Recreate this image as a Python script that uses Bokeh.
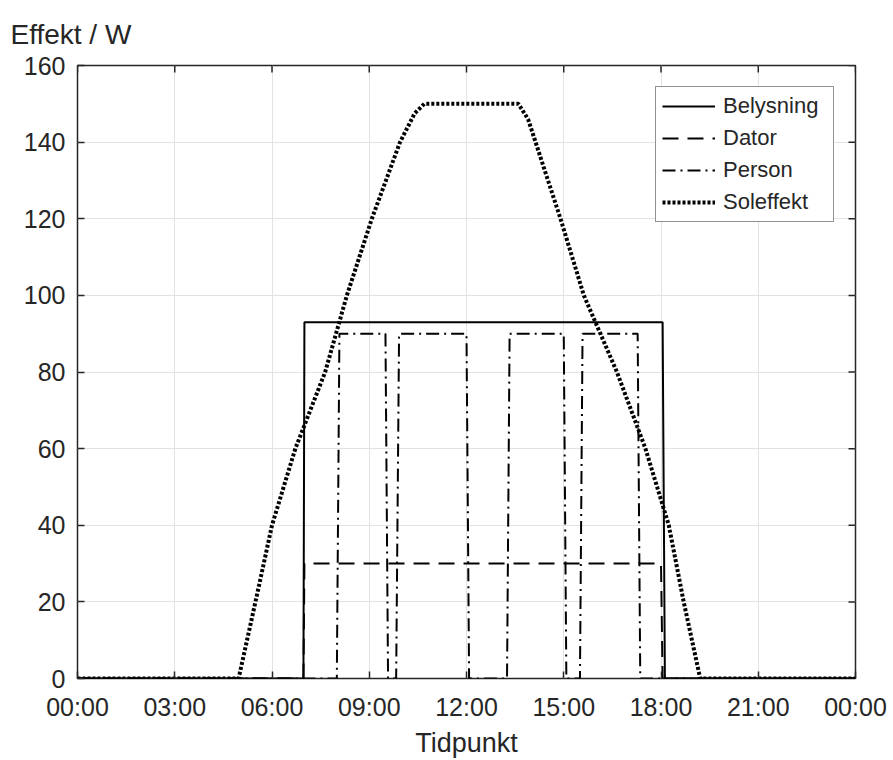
from bokeh.plotting import figure
from bokeh.models import FixedTicker, Range1d, Legend, LegendItem
from bokeh.embed import file_html
from bokeh.resources import INLINE

# ---------------- data (time in hours of the day, power in W) ----------------
tick_hours = [0, 3, 6, 9, 12, 15, 18, 21, 24]
tick_labels = ["00:00", "03:00", "06:00", "09:00", "12:00", "15:00", "18:00", "21:00", "00:00"]
y_ticks = [0, 20, 40, 60, 80, 100, 120, 140, 160]

bel_t = [0.0, 6.97, 7.0, 18.05, 18.12, 24.0]
bel_w = [0, 0, 93, 93, 0, 0]

dat_t = [0.0, 6.97, 7.0, 18.0, 18.05, 24.0]
dat_w = [0, 0, 30, 30, 0, 0]

per_t = [0.0, 8.0, 8.08, 9.5, 9.58, 9.83, 9.92, 12.0, 12.08, 13.25, 13.33,
         15.0, 15.08, 15.5, 15.58, 17.28, 17.36, 24.0]
per_w = [0, 0, 90, 90, 0, 0, 90, 90, 0, 0, 90, 90, 0, 0, 90, 90, 0, 0]

sol_t = [0.0, 4.97, 5.49, 6.0, 6.72, 7.64, 8.31, 9.08, 9.95, 10.4, 10.7,
         13.6, 13.9, 14.13, 14.9, 15.62, 16.64, 17.52, 18.24, 18.7, 19.21, 24.0]
sol_w = [0, 0, 20, 40, 60, 80, 100, 120, 140, 147.5, 150,
         150, 146, 140, 120, 100, 80, 60, 40, 20, 0, 0]

FONT = "Liberation Sans"
TXT = "#262626"
W, H = 893, 760
BL, BR, BT, BB = 77, 38, 65, 82
X0, X1, Y0, Y1 = 0, 24, 0, 160
TICK = 7

p = figure(width=W, height=H, output_backend="svg", toolbar_location=None,
           x_range=Range1d(X0, X1), y_range=Range1d(Y0, Y1),
           min_border_left=BL, min_border_right=BR, min_border_top=BT, min_border_bottom=BB,
           title="Effekt / W")
p.background_fill_color = "white"
p.border_fill_color = "white"
p.outline_line_color = TXT
p.outline_line_width = 1.5

fw = W - BL - BR
fh = H - BT - BB

xax = p.below[0]
yax = p.left[0]

xt = FixedTicker(ticks=tick_hours)
yt = FixedTicker(ticks=y_ticks)
xax.ticker = xt
yax.ticker = yt
xax.major_label_overrides = {h: lab for h, lab in zip(tick_hours, tick_labels)}
xax.axis_label = "Tidpunkt"
for ax in (xax, yax):
    ax.axis_line_color = None
    ax.major_tick_in = TICK
    ax.major_tick_out = 0
    ax.minor_tick_line_color = None
    ax.major_tick_line_color = TXT
    ax.major_tick_line_width = 1.5
    ax.major_label_text_font = FONT
    ax.major_label_text_font_size = "25px"
    ax.major_label_text_color = TXT
    ax.axis_label_text_font = FONT
    ax.axis_label_text_font_size = "27px"
    ax.axis_label_text_font_style = "normal"
    ax.axis_label_text_color = TXT
xax.major_label_standoff = 14
yax.major_label_standoff = 12
xax.axis_label_standoff = 4

# y-axis quantity written horizontally above the top-left corner of the box
p.title.align = "left"
p.title.vertical_align = "bottom"
p.title.offset = -67
p.title.standoff = 31
p.title.text_font = FONT
p.title.text_font_size = "28px"
p.title.text_font_style = "normal"
p.title.text_color = TXT

p.xgrid.ticker = xt
p.ygrid.ticker = yt
p.grid.grid_line_color = "#e3e3e3"
p.grid.grid_line_width = 1

# inward ticks on the top and right sides of the box (length TICK px in data units)
dy = TICK * (Y1 - Y0) / fh
dx = TICK * (X1 - X0) / fw
p.segment(x0=tick_hours, y0=[Y1] * len(tick_hours), x1=tick_hours, y1=[Y1 - dy] * len(tick_hours),
          line_color=TXT, line_width=1.5)
p.segment(x0=[X1] * len(y_ticks), y0=y_ticks, x1=[X1 - dx] * len(y_ticks), y1=y_ticks,
          line_color=TXT, line_width=1.5)

r1 = p.line(bel_t, bel_w, line_color="black", line_width=2)
r2 = p.line(dat_t, dat_w, line_color="black", line_width=2, line_dash="16 9")
r3 = p.line(per_t, per_w, line_color="black", line_width=2, line_dash="13 5 2 5")
r4 = p.line(sol_t, sol_w, line_color="black", line_width=4, line_dash="3 2")

legend = Legend(items=[LegendItem(label="Belysning", renderers=[r1]),
                       LegendItem(label="Dator", renderers=[r2]),
                       LegendItem(label="Person", renderers=[r3]),
                       LegendItem(label="Soleffekt", renderers=[r4])],
                location="top_right", margin=21, padding=6, spacing=6,
                glyph_width=53, glyph_height=26, label_height=26, label_width=104,
                label_standoff=8,
                label_text_font=FONT, label_text_font_size="22px", label_text_color=TXT,
                border_line_color=TXT, border_line_width=1, background_fill_color="white",
                background_fill_alpha=1.0)
p.add_layout(legend)

open("out.html", "w").write(file_html(p, INLINE))
